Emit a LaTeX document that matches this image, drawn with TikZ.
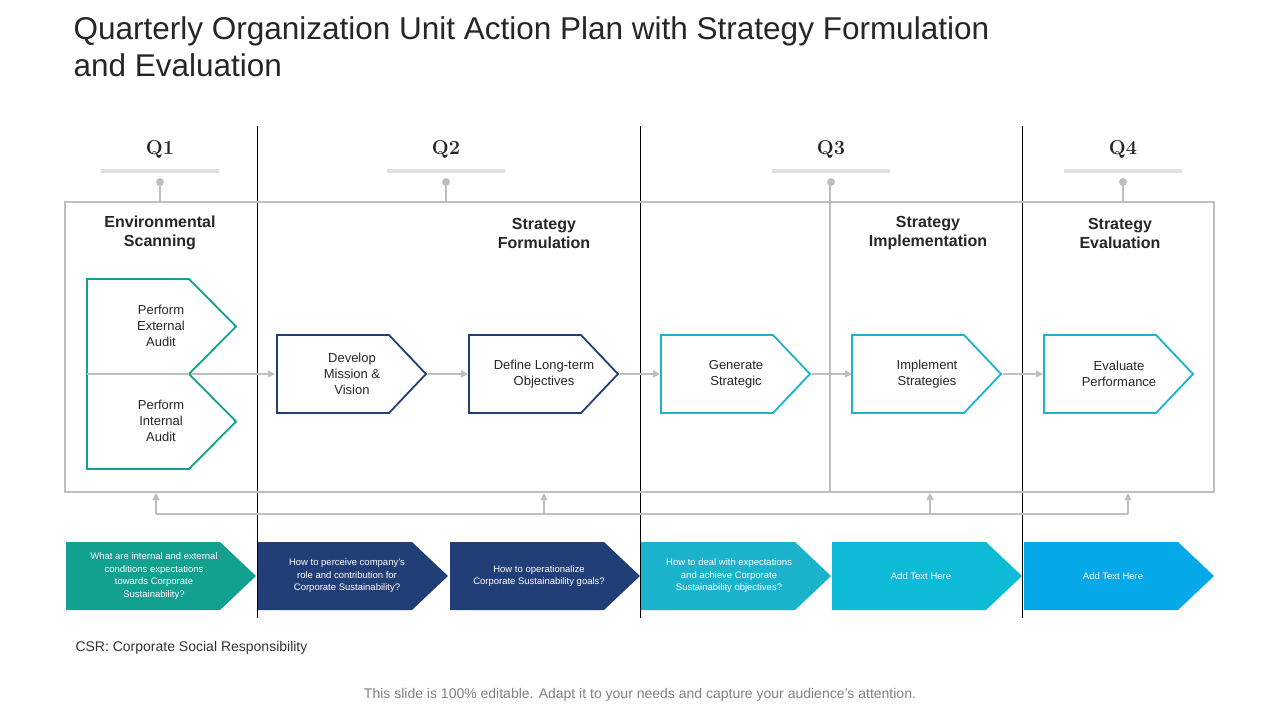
\documentclass[tikz,border=0pt]{standalone}
\usepackage{fontspec}
\setmainfont{Liberation Sans}
\newfontfamily\qfont{Latin Modern Roman}
\usetikzlibrary{arrows.meta}
\definecolor{teal1}{HTML}{12A08F}
\definecolor{navy1}{HTML}{213F76}
\definecolor{cyan1}{HTML}{1BB3CC}
\definecolor{cyan2}{HTML}{0DBBD6}
\definecolor{blue1}{HTML}{05A9EA}
\definecolor{gline}{HTML}{BFBFBF}
\tikzset{
 gl/.style={draw=gline,line width=1.6pt},
 ga/.style={gl,-{Triangle[length=7pt,width=7pt]}},
 txt/.style={align=center,font=\fontsize{13}{16}\selectfont,text=black!85},
 hdr/.style={align=center,font=\fontsize{16}{19}\selectfont\bfseries,text=black!85},
 btxt/.style={align=center,text=white,font=\fontsize{9.5}{12.5}\selectfont},
}
\newcommand{\penta}[6]{\draw[#6,line width=1.8pt,fill=white] (#1,#4) -- (#2,#4) -- (#3,{(#4+#5)/2}) -- (#2,#5) -- (#1,#5) -- cycle;}
\newcommand{\chev}[6]{\fill[#6] (#1,#4) -- (#2,#4) -- (#3,{(#4+#5)/2}) -- (#2,#5) -- (#1,#5) -- cycle;}
\begin{document}
\begin{tikzpicture}[x=1pt,y=-1pt]
\useasboundingbox (0,0) rectangle (1280,720);
\node[anchor=west,font=\fontsize{31.5}{36}\selectfont,text=black!85] (t1) at (70,31) {Quarterly Organization Unit Action Plan with Strategy Formulation};
\node[anchor=west,font=\fontsize{31.5}{36}\selectfont,text=black!85] (t2) at (70,65) {and Evaluation};
\foreach \x in {257,640,1022} \draw[black,line width=0.8pt] (\x,126) -- (\x,618);
\foreach \x/\q in {160/Q1,446/Q2,831/Q3,1123/Q4}{
 \node[font=\qfont\fontsize{20}{24}\selectfont\bfseries,text=black!85] (q\q) at (\x,149) {\q};
 \draw[draw=black!12,line width=4pt] (\x-59,171) -- (\x+59,171);
 \fill[gline] (\x,182) circle (4);
}
\draw[gl] (160,182) -- (160,202);
\draw[gl] (446,182) -- (446,202);
\draw[gl] (830,182) -- (830,492);
\draw[gl] (1123,182) -- (1123,202);
\draw[gl] (65,202) rectangle (1214,492);
\node[hdr] (h1) at (160,233) {Environmental\\Scanning};
\node[hdr] (h2) at (544,233) {Strategy\\Formulation};
\node[hdr] (h3) at (928,233) {Strategy\\Implementation};
\node[hdr] (h4) at (1120,233) {Strategy\\Evaluation};
\coordinate (ls) at (87,374);
\coordinate (d1) at (275,374);
\draw[ga] (ls) -- (d1);
\penta{87}{189}{236}{279}{374}{teal1}
\penta{87}{189}{236}{374}{469}{teal1}
\draw[gl] (87,374) -- (189,374);
\node[txt] (ea) at (161,326) {Perform\\External\\Audit};
\node[txt] (ia) at (161,421) {Perform\\Internal\\Audit};
\foreach \a/\c/\t/\n in {277/navy1/{Develop\\Mission \&\\Vision}/s1,469/navy1/{Define Long-term\\Objectives}/s2,661/cyan1/{Generate\\Strategic}/s3,852/cyan1/{Implement\\Strategies}/s4,1044/cyan1/{Evaluate\\Performance}/s5}{
 \penta{\a}{\a+112}{\a+149}{335}{413}{\c}
 \node[txt] (\n) at (\a+75,374) {\t};
}
\foreach \a in {426,618,810,1001}{
 \draw[ga] (\a+2,374) -- (\a+42,374);
}
\draw[gl] (156,514) -- (1128,514);
\foreach \x in {156,544,930,1128} \draw[ga] (\x,514) -- (\x,493);
\chev{66}{220}{256}{542}{610}{teal1}
\node[btxt] (b1) at (154,576) {What are internal and external\\conditions expectations\\towards Corporate\\Sustainability?};
\chev{258}{412}{448}{542}{610}{navy1}
\node[btxt] (b2) at (347,576) {How to perceive company's\\role and contribution for\\Corporate Sustainability?};
\chev{450}{604}{640}{542}{610}{navy1}
\node[btxt] (b3) at (539,576) {How to operationalize\\Corporate Sustainability goals?};
\chev{641}{795}{831}{542}{610}{cyan1}
\node[btxt] (b4) at (729,576) {How to deal with expectations\\and achieve Corporate\\Sustainability objectives?};
\chev{832}{986}{1022}{542}{610}{cyan2}
\node[btxt] (b5) at (921,576) {Add Text Here};
\chev{1024}{1178}{1214}{542}{610}{blue1}
\node[btxt] (b6) at (1113,576) {Add Text Here};
\node[anchor=west,font=\fontsize{14}{17}\selectfont,text=black!80] (csr) at (72,648) {CSR: Corporate Social Responsibility};
\node[font=\fontsize{14}{17}\selectfont,text=black!50] (ft) at (640,695) {This slide is 100\% editable. Adapt it to your needs and capture your audience's attention.};
\end{tikzpicture}
\end{document}
